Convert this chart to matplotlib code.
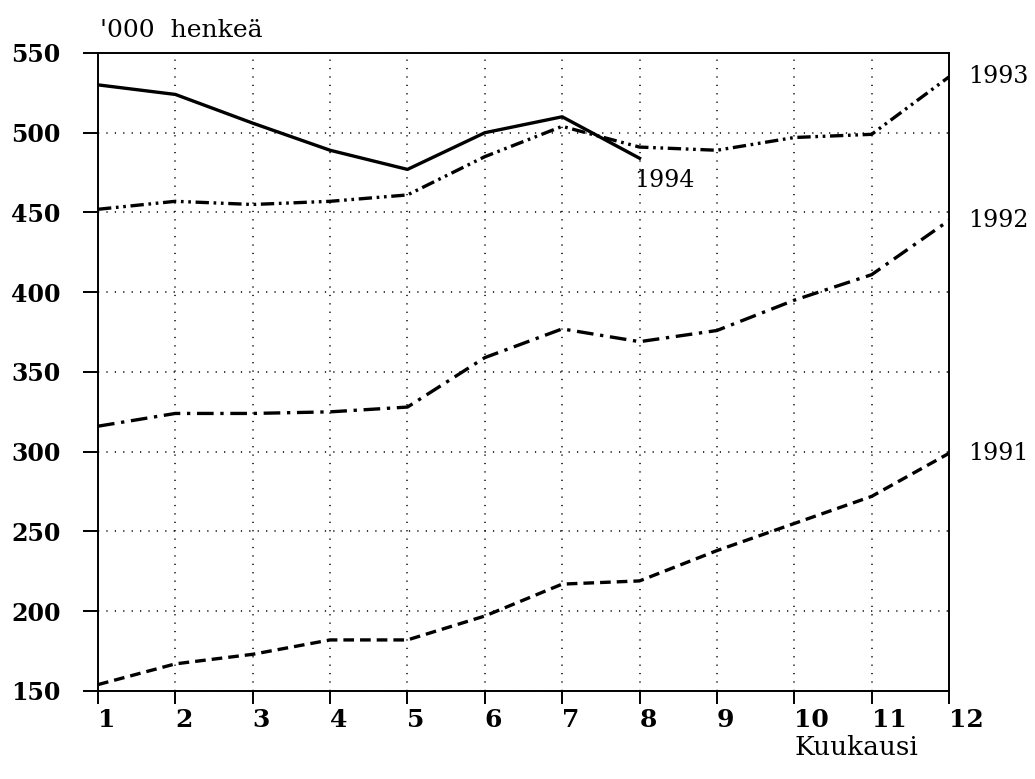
import matplotlib.pyplot as plt

# Data ('000 persons per month)
months = list(range(1, 13))
y1991 = [154, 167, 173, 182, 182, 197, 217, 219, 238, 255, 272, 299]
y1992 = [316, 324, 324, 325, 328, 359, 377, 369, 376, 395, 411, 445]
y1993 = [452, 457, 455, 457, 461, 485, 504, 491, 489, 497, 499, 535]
y1994 = [530, 524, 506, 489, 477, 500, 510, 484]
yticks = [150, 200, 250, 300, 350, 400, 450, 500, 550]

plt.rcParams['font.family'] = ['DejaVu Serif']

fig = plt.figure(figsize=(10.35, 7.79), dpi=100)
ax = fig.add_axes([0.0947, 0.113, 0.8222, 0.819])

lw = 2.4
ax.plot(months[:len(y1994)], y1994, color='black', lw=lw, linestyle='-')
ax.plot(months, y1993, color='black', lw=lw, linestyle=(0, (4, 1.4, 0.8, 1.4, 0.8, 1.4)))
ax.plot(months, y1992, color='black', lw=lw, linestyle=(0, (5, 2, 1, 2)))
ax.plot(months, y1991, color='black', lw=lw, linestyle=(0, (3.2, 1.8)))

ax.set_xlim(1, 12)
ax.set_ylim(150, 550)
ax.set_xticks(months)
ax.set_yticks(yticks)
ax.grid(True, color='black', linestyle=(0, (0.8, 4.7)), linewidth=1.1)

for s in ax.spines.values():
    s.set_linewidth(1.4)
ax.tick_params(axis='y', direction='out', length=11, width=1.4, labelsize=17, pad=16)
ax.tick_params(axis='x', direction='out', length=9.5, width=1.4, labelsize=18, pad=3)
for lab in ax.get_yticklabels() + ax.get_xticklabels():
    lab.set_fontweight('bold')
for lab in ax.get_xticklabels():
    lab.set_horizontalalignment('left')

# line labels
ax.text(12.25, y1993[-1], '1993', fontsize=17, va='center', ha='left', clip_on=False)
ax.text(12.25, y1992[-1], '1992', fontsize=17, va='center', ha='left', clip_on=False)
ax.text(12.25, y1991[-1], '1991', fontsize=17, va='center', ha='left', clip_on=False)
ax.text(7.93, 470, '1994', fontsize=17, va='center', ha='left')

fig.text(0.097, 0.961, "'000  henkeä", fontsize=18, va='center', ha='left')
fig.text(0.827, 0.040, 'Kuukausi', fontsize=19, va='center', ha='center')

plt.savefig('out.png', dpi=100)
